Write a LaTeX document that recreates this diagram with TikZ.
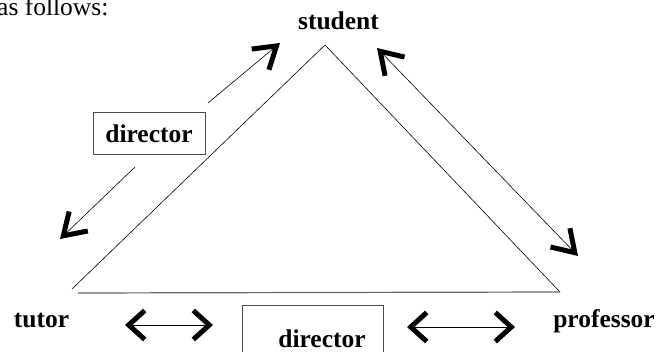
\documentclass[tikz,border=0pt]{standalone}
\usepackage{fontspec}
\setmainfont{Liberation Serif}
\usetikzlibrary{arrows.meta}
\begin{document}
\begin{tikzpicture}[x=1pt,y=-1pt,
  txt/.style={font=\fontsize{25.5}{30}\selectfont, inner sep=0pt, anchor=base},
  lbl/.style={txt, font=\fontsize{25.5}{30}\selectfont\bfseries},
  boxed/.style={draw=black!70, line width=1pt, inner sep=0pt},
  side/.style={line width=0.6pt, black},
  baseedge/.style={line width=1.2pt, black!60},
  dbl/.style={line width=0.6pt, {Straight Barb[length=16pt,width=29pt,line width=5pt,sharp]}-{Straight Barb[length=16pt,width=29pt,line width=5pt,sharp]}},
  diag/.style={line width=0.6pt, -{Straight Barb[length=21pt,width=27pt,line width=5pt,sharp]}},
  diagboth/.style={line width=0.6pt, {Straight Barb[length=21pt,width=27pt,line width=5pt,sharp]}-{Straight Barb[length=21pt,width=27pt,line width=5pt,sharp]}},
]
\useasboundingbox (0,0) rectangle (660,352);

% intro text
\node[txt, anchor=base west] (intro) at (-3,16) {as follows:};

% labels
\node[lbl] (student) at (338.5,30) {student};
\node[lbl] (tutor) at (41.5,327) {tutor};
\node[lbl] (professor) at (604,327) {professor};

% triangle
\coordinate (apex) at (325,45);
\coordinate (bl) at (72,289);
\coordinate (bl2) at (78,293);
\coordinate (br) at (560,292);
\draw[side] (bl) -- (apex) -- (br);
\draw[baseedge] (bl2) -- (br);

% upper director box
\node[boxed, minimum width=112pt, minimum height=42pt, font=\fontsize{25.5}{30}\selectfont\bfseries] (dir1) at (149,134) {director};

% lower director box
\node[boxed, anchor=north west, minimum width=141pt, minimum height=70pt] (dir2) at (242,305) {};
\node[lbl] (dir2txt) at (322,347) {director};

% diagonal arrows near tutor side
\coordinate (ul1) at (208,103);
\coordinate (ul2) at (280,43);
\coordinate (ll1) at (135,167);
\coordinate (ll2) at (60,239);
\draw[diag] (ul1) -- (ul2);
\draw[diag] (ll1) -- (ll2);

% diagonal arrow near professor side
\coordinate (r1) at (377,48);
\coordinate (r2) at (578,256);
\draw[diagboth] (r1) -- (r2);

% bottom arrows
\coordinate (b1) at (125,325);
\coordinate (b2) at (213,325);
\coordinate (b3) at (407,327);
\coordinate (b4) at (515,327);
\draw[dbl] (b1) -- (b2);
\draw[dbl] (b3) -- (b4);
\end{tikzpicture}
\end{document}
